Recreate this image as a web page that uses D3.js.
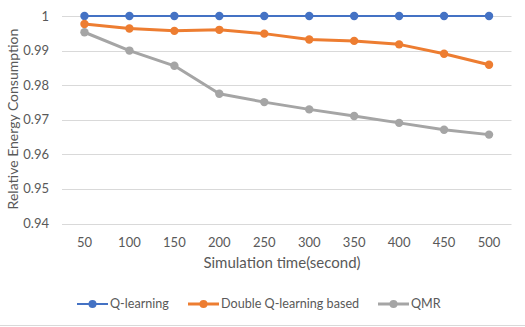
<!DOCTYPE html>
<html>
<head>
<meta charset="utf-8">
<style>
  body { margin:0; background:#fff; }
  svg text { font-family: Lato, "Open Sans", sans-serif; fill:#595959; }
  .grid line { stroke:#d9d9d9; stroke-width:1; }
  .line { fill:none; }
</style>
</head>
<body>
<svg width="525" height="327"></svg>
<script src="https://cdn.jsdelivr.net/npm/d3@7/dist/d3.min.js"></script>
<script>

var times = ["50","100","150","200","250","300","350","400","450","500"]
var yTicks = [0.94,0.95,0.96,0.97,0.98,0.99,1]

var qLearning = [1,1,1,1,1,1,1,1,1,1]
var doubleQ = [0.9977,0.9964,0.9957,0.9960,0.9949,0.9932,0.9928,0.9918,0.9891,0.9859]
var qmr = [0.9953,0.9900,0.9856,0.9775,0.9751,0.9730,0.9711,0.9691,0.9671,0.9657]

var seriesNames = ["Q-learning","Double Q-learning based","QMR"]
var colors = ["#4472C4","#ED7D31","#A5A5A5"]
var widths = [2,3,3]

var svg = d3.select("svg")
var plotLeft = 62, plotRight = 511.5, plotTop = 16, plotBottom = 223.5

var x = d3.scaleBand().domain(times).range([plotLeft,plotRight])
var y = d3.scaleLinear().domain([0.94,1]).range([plotBottom,plotTop])

// gridlines
svg.append("g").attr("class","grid")
  .selectAll("line").data(yTicks).enter().append("line")
  .attr("x1",plotLeft).attr("x2",plotRight)
  .attr("y1",function(d){return Math.round(y(d))+0.5})
  .attr("y2",function(d){return Math.round(y(d))+0.5})

// y labels
svg.append("g").selectAll("text").data(yTicks).enter().append("text")
  .attr("x",49).attr("y",function(d){return y(d)})
  .attr("dy","0.35em").attr("text-anchor","end")
  .style("font-size","13px")
  .text(function(d){return d===1 ? "1" : d3.format(".2f")(d)})

// x labels
svg.append("g").selectAll("text").data(times).enter().append("text")
  .attr("x",function(d){return x(d)+x.bandwidth()/2}).attr("y",242)
  .attr("dy","0.35em").attr("text-anchor","middle")
  .style("font-size","13px")
  .text(function(d){return d})

// axis titles
svg.append("text").attr("x",282).attr("y",263).attr("dy","0.35em")
  .attr("text-anchor","middle").style("font-size","15px")
  .text("Simulation time(second)")
svg.append("text").attr("transform","translate(13,119) rotate(-90)")
  .attr("dy","0.35em").attr("text-anchor","middle").style("font-size","14px")
  .text("Relative Energy Consumption")

var allSeries = [qLearning, doubleQ, qmr]
var line = d3.line()
  .x(function(d,i){return x(times[i])+x.bandwidth()/2})
  .y(function(d){return y(d)})

allSeries.forEach(function(s,k){
  svg.append("path").attr("class","line")
    .attr("d",line(s))
    .attr("stroke",colors[k]).attr("stroke-width",widths[k])
    .attr("stroke-linejoin","round")
  svg.append("g").selectAll("circle").data(s).enter().append("circle")
    .attr("cx",function(d,i){return x(times[i])+x.bandwidth()/2})
    .attr("cy",function(d){return y(d)})
    .attr("r",4.2).attr("fill",colors[k])
})

// legend
var legendX = [77,188,378]
var lg = svg.append("g")
seriesNames.forEach(function(n,k){
  var g = lg.append("g").attr("transform","translate("+legendX[k]+",304)")
  g.append("line").attr("x1",0).attr("x2",31).attr("y1",0).attr("y2",0)
    .attr("stroke",colors[k]).attr("stroke-width",widths[k])
  g.append("circle").attr("cx",15.5).attr("cy",0).attr("r",4).attr("fill",colors[k])
  g.append("text").attr("x",33).attr("y",0).attr("dy","0.35em")
    .style("font-size","12.6px").text(n)
})

svg.append("line").attr("x1",0).attr("x2",525).attr("y1",325.5).attr("y2",325.5)
  .attr("stroke","#d9d9d9")

</script>
</body>
</html>
